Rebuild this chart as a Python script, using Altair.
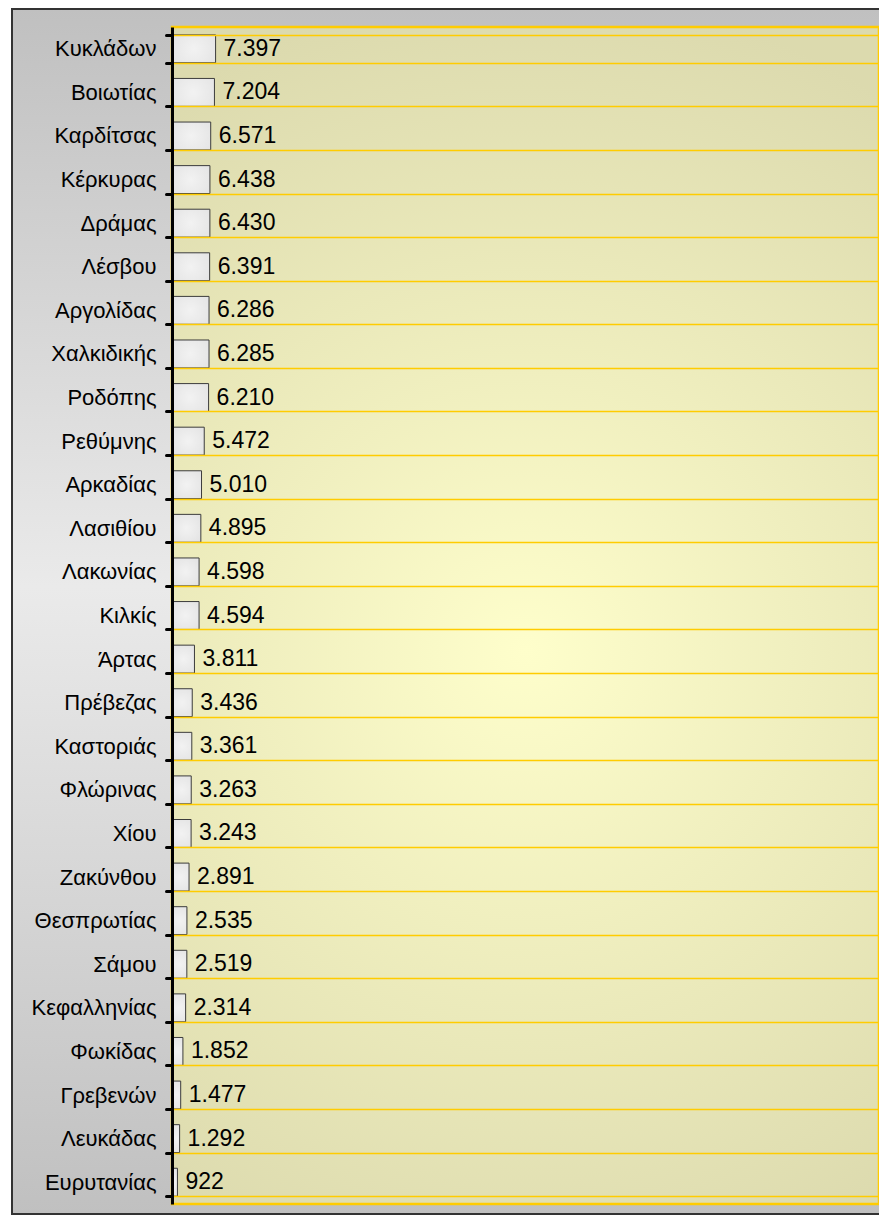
import altair as alt
import pandas as pd

categories = [
    "Κυκλάδων", "Βοιωτίας", "Καρδίτσας", "Κέρκυρας", "Δράμας", "Λέσβου",
    "Αργολίδας", "Χαλκιδικής", "Ροδόπης", "Ρεθύμνης", "Αρκαδίας", "Λασιθίου",
    "Λακωνίας", "Κιλκίς", "Άρτας", "Πρέβεζας", "Καστοριάς", "Φλώρινας",
    "Χίου", "Ζακύνθου", "Θεσπρωτίας", "Σάμου", "Κεφαλληνίας", "Φωκίδας",
    "Γρεβενών", "Λευκάδας", "Ευρυτανίας",
]
values = [
    7397, 7204, 6571, 6438, 6430, 6391,
    6286, 6285, 6210, 5472, 5010, 4895,
    4598, 4594, 3811, 3436, 3361, 3263,
    3243, 2891, 2535, 2519, 2314, 1852,
    1477, 1292, 922,
]

df = pd.DataFrame({"nomos": categories, "value": values})

W, H = 707, 1177
XMAX = 120000
FONT = "Liberation Sans"

one = alt.Data(values=[{}])

outer = alt.Chart(one).mark_rect(
    fill=alt.Gradient(
        gradient="linear", x1=0, y1=0, x2=0, y2=1,
        stops=[
            alt.GradientStop(color="#c0c0c0", offset=0),
            alt.GradientStop(color="#eaeaea", offset=0.48),
            alt.GradientStop(color="#c0c0c0", offset=1),
        ],
    ),
    stroke="#333333", strokeWidth=2,
).encode(x=alt.value(-160), x2=alt.value(W + 30), y=alt.value(-18), y2=alt.value(H + 10))

inner = alt.Chart(one).mark_rect(
    fill=alt.Gradient(
        gradient="radial", x1=0.5, y1=0.53, x2=0.5, y2=0.53, r1=0, r2=0.56,
        stops=[
            alt.GradientStop(color="#fefecb", offset=0),
            alt.GradientStop(color="#dcdaae", offset=1),
        ],
    ),
    stroke="#ffcc00", strokeWidth=2.5,
).encode(x=alt.value(0), x2=alt.value(W), y=alt.value(0), y2=alt.value(H))

xscale = alt.Scale(domain=[0, XMAX])
yaxis = alt.Axis(
    title=None, domainColor="black", domainWidth=3, tickColor="black",
    tickWidth=3, tickSize=6, tickCap="round", tickBand="extent",
    grid=True, gridColor="#ffcc00", gridWidth=1.5,
    labelFont=FONT, labelFontSize=22, labelColor="black", labelPadding=10,
    zindex=1,
)
yenc = alt.Y("nomos:N", sort=categories,
             scale=alt.Scale(paddingInner=0.36, paddingOuter=0.18), axis=yaxis)

bars = alt.Chart(df).mark_bar(
    fill=alt.Gradient(
        gradient="radial", x1=0.5, y1=0.5, x2=0.5, y2=0.5, r1=0, r2=0.7,
        stops=[
            alt.GradientStop(color="#f2f2f2", offset=0),
            alt.GradientStop(color="#e2e2e2", offset=1),
        ],
    ),
    stroke="#3c3c3c", strokeWidth=1,
).encode(
    x=alt.X("value:Q", scale=xscale, axis=None),
    y=yenc,
)

text = alt.Chart(df).transform_calculate(
    lbl="replace(format(datum.value, ','), ',', '.')"
).mark_text(
    align="left", baseline="middle", dx=8, fontSize=23, font=FONT, color="black"
).encode(
    x=alt.X("value:Q", scale=xscale, axis=None),
    y=yenc,
    text="lbl:N",
)

chart = alt.layer(outer, inner, bars, text).properties(
    width=W, height=H,
    padding={"left": 164, "top": 19, "right": 0, "bottom": 11},
    autosize=alt.AutoSizeParams(type="none"),
).configure_view(stroke=None)

chart.save("out.html", embed_options={"renderer": "svg", "actions": False})
